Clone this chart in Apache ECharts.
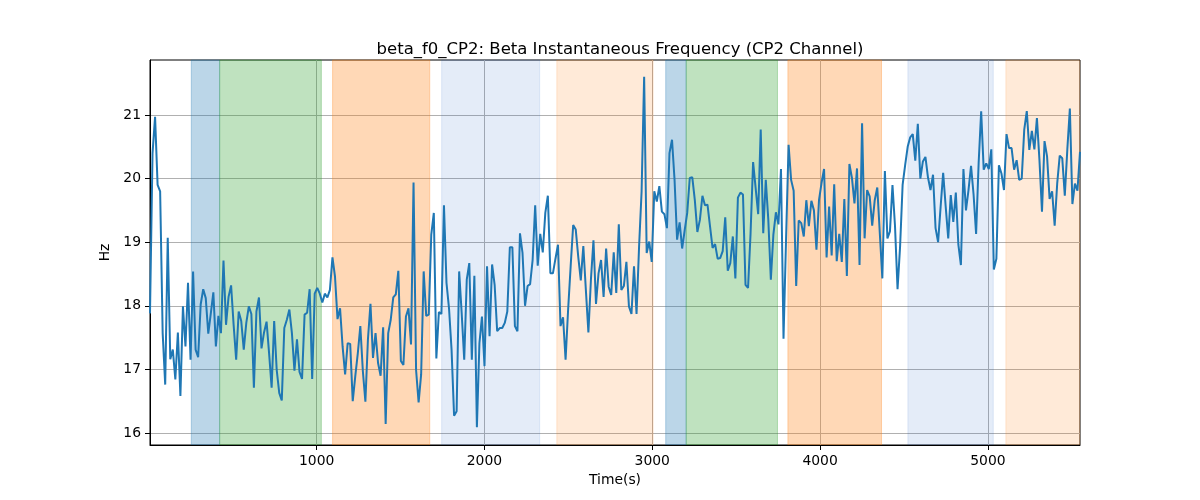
<!DOCTYPE html>
<html>
<head>
<meta charset="utf-8">
<script src="https://cdn.jsdelivr.net/npm/echarts@6/dist/echarts.min.js"></script>
<style>html,body{margin:0;padding:0;background:#fff}#c{width:1200px;height:500px}</style>
</head>
<body>
<div id="c"></div>
<script>
// sampling of the series (seconds)
const T0 = 7;
const STEP = 15.1;
// Beta instantaneous frequency values (Hz)
const freqValues = [
17.88,20.4,20.97,19.9,19.8,17.57,16.76,19.07,17.16,17.31,16.84,17.58,16.58,17.99,17.36,18.36,17.15,18.54,17.31,17.19,
18.02,18.26,18.12,17.56,17.88,18.21,17.36,17.84,17.57,18.71,17.70,18.14,18.32,17.70,17.15,17.91,17.76,17.31,17.73,17.99,
17.87,16.71,17.91,18.13,17.33,17.58,17.75,17.25,16.71,17.76,16.99,16.63,16.51,17.65,17.78,17.94,17.57,16.98,17.47,16.96,
16.85,17.86,17.89,18.26,16.85,18.19,18.28,18.19,18.05,18.19,18.13,18.25,18.76,18.46,17.79,17.96,17.36,16.92,17.41,17.40,
16.50,16.89,17.25,17.68,16.97,16.49,17.47,18.03,17.18,17.57,17.10,16.90,17.66,16.14,17.57,17.78,18.13,18.18,18.55,17.13,
17.07,17.83,17.96,17.39,19.94,16.99,16.48,16.92,18.54,17.84,17.86,19.12,19.46,17.17,17.90,17.87,19.58,18.36,17.96,17.31,
16.27,16.34,18.54,17.88,17.15,18.41,18.67,17.15,18.47,16.09,17.41,17.83,17.05,18.62,17.52,18.65,18.33,17.60,17.65,17.65,
17.73,17.91,18.92,18.92,17.68,17.60,19.14,18.83,18.00,18.31,18.34,18.72,19.58,18.63,19.13,18.84,19.46,19.73,18.51,18.51,
18.74,18.96,17.68,17.82,17.15,17.94,18.62,19.27,19.20,18.77,18.40,18.94,18.25,17.58,18.41,19.03,18.03,18.51,18.72,18.14,
18.90,18.30,18.17,18.84,18.20,19.28,18.25,18.31,18.69,17.99,17.87,18.62,17.87,18.93,19.80,21.60,18.83,19.01,18.69,19.80,
19.64,19.88,19.48,19.44,19.22,20.40,20.61,19.98,19.04,19.31,18.90,19.19,19.46,20.01,20.02,19.66,19.16,19.35,19.73,19.58,
19.59,19.25,18.91,18.97,18.74,18.75,18.86,19.39,18.55,18.67,19.09,18.43,19.70,19.78,19.75,18.33,18.28,19.14,20.26,19.85,
19.44,20.77,19.14,19.98,19.35,18.41,19.12,19.47,19.28,20.15,17.48,19.04,20.53,19.98,19.81,18.31,19.34,19.30,19.09,19.66,
19.25,19.65,19.50,18.88,19.66,19.93,20.15,18.76,19.56,18.79,19.91,18.70,19.13,18.69,19.68,18.47,20.23,20.01,19.61,20.16,
18.64,20.87,19.06,19.82,19.72,19.26,19.66,19.86,19.14,18.43,20.12,19.06,19.17,19.90,19.25,18.26,18.93,19.90,20.21,20.50,
20.65,20.70,20.28,20.86,20.00,20.27,20.34,20.02,19.82,20.06,19.22,19.00,19.56,20.09,19.56,19.06,19.74,19.32,19.78,18.96,
18.64,20.15,19.50,19.82,20.20,19.75,19.13,20.24,21.06,20.14,20.24,20.15,20.46,18.57,18.74,20.21,20.08,19.82,20.70,20.48,
20.48,20.14,20.29,19.98,20.00,20.77,21.06,20.45,20.75,20.46,20.95,20.29,19.48,20.59,20.35,19.68,19.80,19.26,19.92,20.36,
20.32,19.73,20.46,21.10,19.60,19.92,19.81,20.42
];
// shaded intervals [start, end, kind]
const spanStarts = [253, 422, 1095, 1745, 2431, 3080, 3202, 3808, 4523, 5107];
const spanEnds   = [422, 1028, 1674, 2329, 3005, 3202, 3746, 4366, 5032, 5547];
const spanKinds  = ['blue','green','orange','lightblue','lightorange','blue','green','orange','lightblue','lightorange'];
const xTicks = [1000, 2000, 3000, 4000, 5000];
const yTicks = [16, 17, 18, 19, 20, 21];

const kindColor = {
  blue: 'rgba(31,119,180,0.3)',
  green: 'rgba(44,160,44,0.3)',
  orange: 'rgba(255,127,14,0.3)',
  lightblue: 'rgba(31,100,200,0.12)',
  lightorange: 'rgba(255,127,14,0.16)'
};

const lineData = freqValues.map((v, i) => [T0 + i * STEP, v]);
const xMin = T0, xMax = T0 + (freqValues.length - 1) * STEP;

const areas = spanStarts.map((s, i) => [
  {xAxis: s, itemStyle: {color: kindColor[spanKinds[i]], borderColor: kindColor[spanKinds[i]], borderWidth: 1}},
  {xAxis: spanEnds[i]}
]);

const FONT = 'DejaVu Sans';
const chart = echarts.init(document.getElementById('c'), null, {renderer: 'canvas'});
chart.setOption({
  animation: false,
  backgroundColor: '#fff',
  title: {
    text: 'beta_f0_CP2: Beta Instantaneous Frequency (CP2 Channel)',
    left: 615, top: 36, textAlign: 'center',
    textStyle: {fontFamily: FONT, fontSize: 16.5, fontWeight: 'normal', color: '#000'}
  },
  grid: {left: 150, right: 120, top: 60, bottom: 55, show: true, borderColor: '#000', borderWidth: 1, backgroundColor: 'transparent', z: 1},
  xAxis: {
    type: 'value', min: xMin, max: xMax, z: 1,
    name: 'Time(s)', nameLocation: 'middle', nameGap: 28,
    nameTextStyle: {fontFamily: FONT, fontSize: 13.9, color: '#000'},
    axisLine: {show: true, onZero: false, lineStyle: {color: '#000', width: 1}},
    axisTick: {show: true, customValues: xTicks, length: 5, lineStyle: {color: '#000'}},
    axisLabel: {customValues: xTicks, margin: 9, fontFamily: FONT, fontSize: 13.9, color: '#000',
      formatter: v => String(Math.round(v))},
    splitLine: {show: true, lineStyle: {color: '#b0b0b0', width: 1}}
  },
  yAxis: {
    type: 'value', min: 15.81, max: 21.865, z: 1,
    name: 'Hz', nameLocation: 'middle', nameGap: 34, nameRotate: 90,
    nameTextStyle: {fontFamily: FONT, fontSize: 13.9, color: '#000'},
    axisLine: {show: true, onZero: false, lineStyle: {color: '#000', width: 1}},
    axisTick: {show: true, customValues: yTicks, length: 5, lineStyle: {color: '#000'}},
    axisLabel: {customValues: yTicks, margin: 9, fontFamily: FONT, fontSize: 13.9, color: '#000',
      formatter: v => String(Math.round(v))},
    splitLine: {show: true, lineStyle: {color: '#b0b0b0', width: 1}}
  },
  series: [
    {
      type: 'line', data: [], z: 0, silent: true,
      markArea: {silent: true, data: areas}
    },
    {
      type: 'line', data: lineData, z: 3, showSymbol: false, symbol: 'none',
      lineStyle: {color: '#1f77b4', width: 2}, itemStyle: {color: '#1f77b4'}
    }
  ]
});
</script>
</body>
</html>
